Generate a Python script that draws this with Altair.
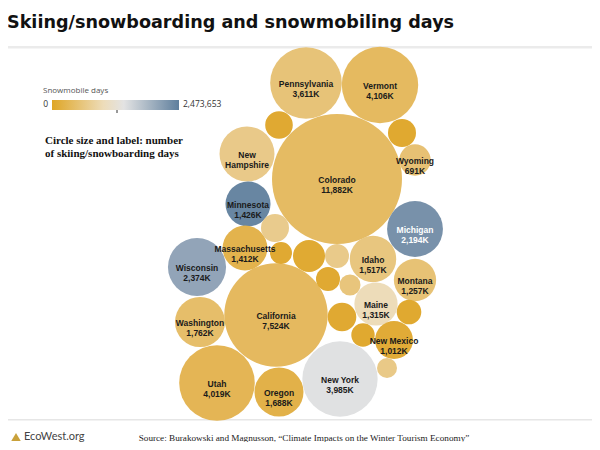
import altair as alt
import pandas as pd

# ---------------- data ----------------
states = [
    "Colorado", "California", "Vermont", "Utah", "New York", "Pennsylvania",
    "Wisconsin", "Michigan", "New Hampshire", "Washington", "Oregon", "Idaho",
    "Minnesota", "Massachusetts", "Maine", "Montana", "New Mexico", "Wyoming",
    "Nevada", "North Carolina", "New Jersey", "Virginia", "West Virginia",
    "Connecticut", "Ohio", "Alaska", "Maryland", "Tennessee", "Missouri", "Illinois",
]
# skiing/snowboarding days, thousands
ski_days_k = [
    11882, 7524, 4106, 4019, 3985, 3611,
    2374, 2194, 2126, 1762, 1688, 1517,
    1426, 1412, 1315, 1257, 1012, 691,
    536, 551, 551, 340, 720,
    405, 405, 310, 425, 575, 385, 281,
]
# snowmobile days
snowmobile_days = [
    380000, 350000, 360000, 280000, 1420000, 530000,
    2060000, 2270000, 650000, 430000, 200000, 580000,
    2400000, 230000, 1000000, 510000, 90000, 500000,
    60000, 50000, 680000, 60000, 70000,
    660000, 60000, 560000, 50000, 60000, 50000, 640000,
]
show_label = [True] * 18 + [False] * 12
# bubble centres of the packed layout (page pixels)
bubble_x = [
    337, 276, 380, 217, 340, 306,
    197, 415, 247, 200, 279, 373,
    248, 245, 376, 415, 394, 415,
    279, 402, 275, 281, 309,
    337, 328, 350, 409, 342, 363, 387,
]
bubble_y = [
    179, 315, 85, 383, 379, 83,
    267, 229, 154, 322, 392, 259,
    204, 248, 304, 280, 340, 160,
    125, 133, 228, 253, 256,
    256, 279, 285, 312, 317, 335, 368,
]

SNOW_MAX = 2473653
color_domain = [0, 1000000, 1400000, SNOW_MAX]
color_range = ["#dfa626", "#eddcb9", "#e3e3e3", "#5f7f9d"]


def make_label(name, v, show):
    if not show:
        return ""
    if name == "New Hampshire":
        return "New\nHampshire"
    return f"{name}\n{v:,}K"


df = pd.DataFrame({
    "state": states,
    "ski": ski_days_k,
    "snow": snowmobile_days,
    "bx": bubble_x,
    "by": bubble_y,
})
df["label"] = [make_label(s, v, sh) for s, v, sh in zip(states, ski_days_k, show_label)]
df["tcolor"] = ["#ffffff" if s == "Michigan" else "#1a1a1a" for s in states]

# ---------------- layout ----------------
OFF = 8
W, H = 600 - 2 * OFF, 450 - 2 * OFF


def px(v):
    return v - OFF


xs = alt.Scale(domain=[OFF, OFF + W])
ys = alt.Scale(domain=[OFF, OFF + H], reverse=True)
one = pd.DataFrame({"k": [0]})

title = alt.Chart(one).mark_text(
    text="Skiing/snowboarding and snowmobiling days", font="DejaVu Sans",
    fontWeight="bold", fontSize=17.6, align="left", baseline="alphabetic", color="#111111"
).encode(x=alt.value(px(7)), y=alt.value(px(28)))

top_line = alt.Chart(one).mark_rect(color="#ebebeb").encode(
    x=alt.value(0), x2=alt.value(W), y=alt.value(px(46)), y2=alt.value(px(48.5)))
bottom_line = alt.Chart(one).mark_rect(color="#e6e6e6").encode(
    x=alt.value(0), x2=alt.value(W), y=alt.value(px(419)), y2=alt.value(px(420.5)))

# legend
leg_title = alt.Chart(one).mark_text(
    text="Snowmobile days", font="Open Sans", fontSize=8, align="left",
    baseline="middle", color="#555555"
).encode(x=alt.value(px(43)), y=alt.value(px(91)))
stops = [alt.GradientStop(offset=d / SNOW_MAX, color=c) for d, c in zip(color_domain, color_range)]
leg_bar = alt.Chart(one).mark_rect(
    color=alt.LinearGradient(gradient="linear", stops=stops, x1=0, x2=1, y1=0, y2=0)
).encode(x=alt.value(px(52)), x2=alt.value(px(179)), y=alt.value(px(100)), y2=alt.value(px(110)))
leg_lo = alt.Chart(one).mark_text(
    text="0", font="Open Sans", fontSize=8.5, align="right", baseline="middle", color="#333333"
).encode(x=alt.value(px(48)), y=alt.value(px(104)))
leg_hi = alt.Chart(one).mark_text(
    text=f"{SNOW_MAX:,}", font="Open Sans", fontSize=8.5, align="left", baseline="middle", color="#333333"
).encode(x=alt.value(px(183)), y=alt.value(px(104)))
leg_tick = alt.Chart(one).mark_rule(color="#333333", strokeWidth=1).encode(
    x=alt.value(px(117)), y=alt.value(px(110)), y2=alt.value(px(113)))

note = alt.Chart(one).mark_text(
    text="Circle size and label: number\nof skiing/snowboarding days", lineBreak="\n",
    font="Liberation Serif", fontWeight="bold", fontSize=11, lineHeight=13,
    align="left", baseline="middle", color="#111111"
).encode(x=alt.value(px(45)), y=alt.value(px(141)))

bubbles = alt.Chart(df).mark_circle(opacity=1).encode(
    x=alt.X("bx:Q", scale=xs, axis=None),
    y=alt.Y("by:Q", scale=ys, axis=None),
    size=alt.Size("ski:Q", scale=alt.Scale(domain=[0, 11882], range=[0, 16900]), legend=None),
    color=alt.Color("snow:Q", scale=alt.Scale(domain=color_domain, range=color_range), legend=None),
    tooltip=["state", "ski", "snow"],
)

labels = alt.Chart(df).mark_text(
    font="Liberation Sans", fontWeight="bold", fontSize=8.5, lineBreak="\n",
    lineHeight=9.5, baseline="middle", align="center", dy=1
).encode(
    x=alt.X("bx:Q", scale=xs, axis=None),
    y=alt.Y("by:Q", scale=ys, axis=None),
    text="label:N",
    color=alt.Color("tcolor:N", scale=None),
)

logo = alt.Chart(one).mark_point(
    shape="triangle-up", filled=True, size=90, color="#c9a13a", opacity=1
).encode(x=alt.value(px(16)), y=alt.value(px(437)))
logo_text = alt.Chart(one).mark_text(
    text="EcoWest.org", font="Lato", fontSize=11, align="left", baseline="middle", color="#444444"
).encode(x=alt.value(px(24)), y=alt.value(px(437)))
source = alt.Chart(one).mark_text(
    text="Source: Burakowski and Magnusson, \u201cClimate Impacts on the Winter Tourism Economy\u201d",
    font="Liberation Serif", fontSize=9.2, align="center", baseline="middle", color="#222222"
).encode(x=alt.value(px(304)), y=alt.value(px(438)))

chart = alt.layer(
    top_line, bottom_line, title, leg_title, leg_bar, leg_lo, leg_hi, leg_tick, note,
    bubbles, labels, logo, logo_text, source
).properties(
    width=W, height=H, padding=0, autosize=alt.AutoSizeParams(type="none"),
    background="white"
).configure_view(stroke=None)

chart.save("out.html", embed_options={"renderer": "svg", "actions": False})
